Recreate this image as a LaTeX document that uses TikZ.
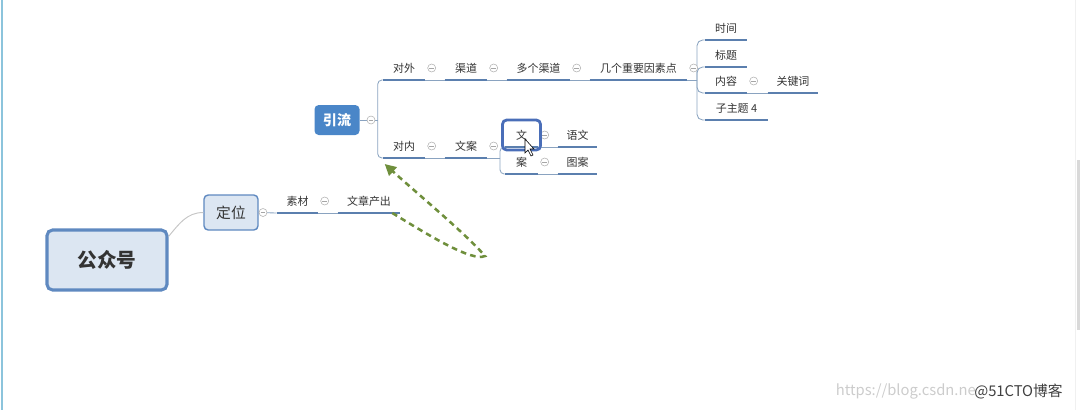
\documentclass[tikz,border=0pt]{standalone}
\usepackage{fontspec}
\usepackage{tikz}
\usetikzlibrary{arrows.meta,calc,positioning}
\newfontfamily\cjk{Noto Sans CJK SC}
\definecolor{colorbox}{HTML}{DCE6F2}
\definecolor{colorrim}{HTML}{5F89C0}
\definecolor{colorsub}{HTML}{4A86C8}
\definecolor{colorline}{HTML}{5B7FAE}
\definecolor{colorlink}{HTML}{8AA3C0}
\definecolor{colortext}{HTML}{333333}
\definecolor{colorsel}{HTML}{4A6EB8}
\definecolor{colorback}{HTML}{6F8F3C}
\definecolor{colorframe}{HTML}{8CC4DC}
\tikzset{
  rootbox/.style={draw=colorrim, fill=colorbox, line width=2.2pt, rounded corners=4pt,
    minimum width=3cm, minimum height=1.5cm, text=colortext,
    font=\cjk\fontsize{14}{16}\selectfont\bfseries},
  mainbox/.style={draw=colorrim, fill=colorbox, line width=1pt, rounded corners=3pt,
    minimum width=1.35cm, minimum height=0.875cm, text=colortext,
    font=\cjk\fontsize{10.5}{12}\selectfont},
  subbox/.style={fill=colorsub, rounded corners=3pt, minimum width=1.125cm,
    minimum height=0.75cm, text=white, font=\cjk\fontsize{10}{12}\selectfont\bfseries},
  topic/.style={anchor=south, inner sep=0pt, minimum height=0.55cm, text=colortext,
    font=\cjk\fontsize{7.8}{9}\selectfont},
  uline/.style={colorline, line width=2pt},
  link/.style={colorlink, line width=0.6pt},
  stem/.style={gray!45, line width=0.7pt},
  fold/.style={circle, draw=gray!60, fill=white, inner sep=0pt, minimum size=0.2cm,
    line width=0.4pt, path picture={\draw[gray!70, line width=0.4pt]
      ([xshift=1.2pt]path picture bounding box.west) --
      ([xshift=-1.2pt]path picture bounding box.east);}},
  selbox/.style={draw=colorsel, line width=2pt, rounded corners=3pt,
    minimum width=0.95cm, minimum height=0.75cm},
  backarrow/.style={colorback, line width=1.8pt, dash pattern=on 4pt off 3pt,
    -{Triangle[length=8pt,width=8pt]}},
  wmtext/.style={font=\cjk\fontsize{10.5}{12}\selectfont}
}

\begin{document}
\begin{tikzpicture}[x=0.025cm, y=-0.025cm]
\useasboundingbox (0,0) rectangle (1082,410);
\draw[colorframe, line width=1.4pt] (2,0) -- (2,410);
\draw[gray!12, line width=0.6pt] (1075,0) -- (1075,410);
\fill[gray!30] (1077,160) rectangle (1080,330);

\node[rootbox] (gzh) at (107,260) {公众号};
\node[mainbox] (dingwei) at (231,212.5) {定位};
\node[subbox] (yinliu) at (337,120) {引流};

\node[topic, minimum width=1.025cm] (sucai) at (297.5,213) {素材};
\node[topic, minimum width=1.55cm] (wzcc) at (369,213) {文章产出};
\node[topic, minimum width=1.05cm] (duiwai) at (404,80) {对外};
\node[topic, minimum width=1.05cm] (qudao) at (466,80) {渠道};
\node[topic, minimum width=1.575cm] (duoge) at (538.5,80) {多个渠道};
\node[topic, minimum width=2.425cm] (jige) at (638.5,80) {几个重要因素点};
\node[topic, minimum width=1.05cm] (shijian) at (726,40) {时间};
\node[topic, minimum width=1.05cm] (biaoti) at (726,67) {标题};
\node[topic, minimum width=1.05cm] (neirong) at (726,93) {内容};
\node[topic, minimum width=1.25cm] (guanjian) at (793,93) {关键词};
\node[topic, minimum width=1.575cm] (zizhuti) at (736.5,120) {子主题 4};
\node[topic, minimum width=1.05cm] (duinei) at (404,158) {对内};
\node[topic, minimum width=1.05cm] (wenan) at (466,158) {文案};
\node[topic, minimum width=0.825cm] (wen) at (521.5,147) {文};
\node[topic, minimum width=0.975cm] (yuwen) at (577.5,147) {语文};
\node[topic, minimum width=0.825cm] (an) at (521.5,174) {案};
\node[topic, minimum width=0.975cm] (tuan) at (577.5,174) {图案};

\draw[stem] ([yshift=-0.2cm]gzh.north east) to[out=50, in=180] (dingwei.west);
\draw[link] (dingwei.east) -- (sucai.south west);
\coordinate (ylj) at (378,120);
\draw[link] (yinliu.east) -- (ylj);
\draw[link, rounded corners=3pt] (duiwai.south west) -- ++(-5,0) |- (duinei.south west);
\coordinate (jgj) at (697,80);
\draw[link] (jige.south east) -- (jgj);
\foreach \c in {shijian,biaoti,neirong,zizhuti}
  \draw[link, rounded corners=4pt] (jgj) |- (\c.south west);
\coordinate (waj) at (500,158);
\draw[link] (wenan.south east) -- (waj);
\foreach \c in {wen,an}
  \draw[link, rounded corners=3pt] (waj) |- (\c.south west);
\foreach \a/\b in {sucai/wzcc,duiwai/qudao,qudao/duoge,duoge/jige,neirong/guanjian,duinei/wenan,wen/yuwen,an/tuan}
  \draw[link] (\a.south east) -- (\b.south west);

\foreach \t in {sucai,wzcc,duiwai,qudao,duoge,jige,shijian,biaoti,neirong,guanjian,zizhuti,duinei,wenan,wen,yuwen,an,tuan}
  \draw[uline] (\t.south west) -- (\t.south east);
\foreach \t in {sucai,duiwai,qudao,duoge,jige,neirong,duinei,wenan,wen,an}
  \node[fold] at ([xshift=0.16cm, yshift=0.3cm]\t.south east) {};
\node[fold] at (263,212.5) {};
\node[fold] at (371,120) {};

\node[selbox] (wenbox) at (521.5,135) {};
\filldraw[fill=white, draw=black, line width=0.4pt] (525,139) -- (525,153) -- (528,150)
  -- (531,156) -- (533,155) -- (530,149) -- (534,149) -- cycle;

\draw[backarrow] ([xshift=-0.2cm]wzcc.south east) .. controls (430,236) and (472,262) .. (485,256)
  .. controls (466,234) and (420,196) .. ([xshift=0.05cm, yshift=-0.15cm]duinei.south west);

\node[wmtext, anchor=east, text=gray!40, inner sep=0pt] (csdn) at (976,391) {https://blog.csdn.ne};
\node[wmtext, anchor=west, text=black!75, inner sep=0pt] (wm) at (974,391) {@51CTO博客};
\end{tikzpicture}
\end{document}
